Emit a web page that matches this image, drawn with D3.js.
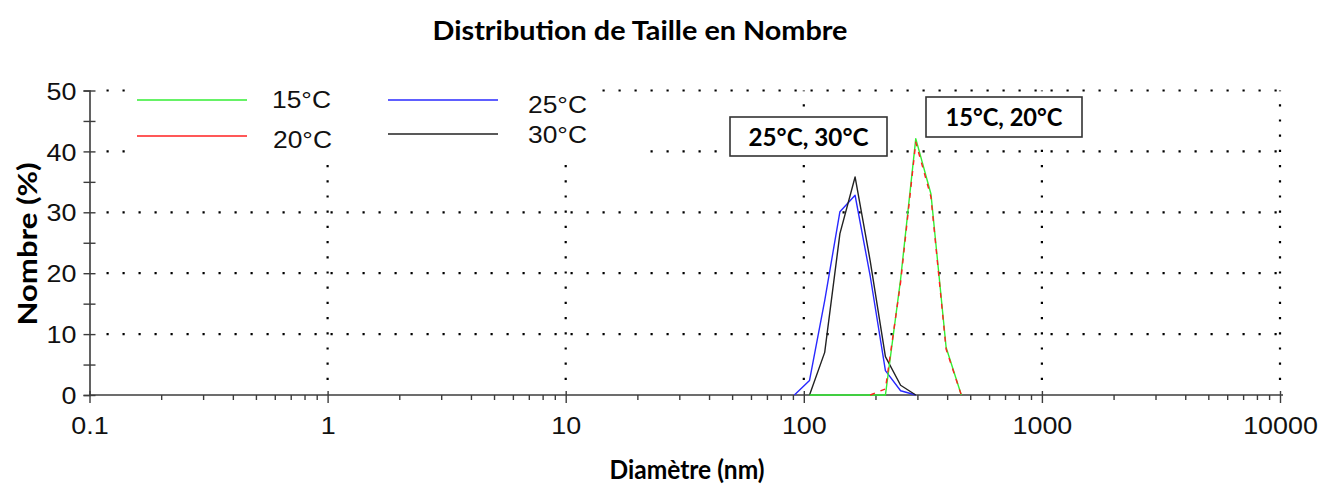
<!DOCTYPE html>
<html>
<head>
<meta charset="utf-8">
<script src="https://cdn.jsdelivr.net/npm/d3@7"></script>
<style>
  html, body { margin: 0; padding: 0; background: #fff; }
  svg { display: block; }
</style>
</head>
<body>
<svg id="chart" width="1323" height="486"></svg>
<script>
// Size bins (nm) of the number distribution
const sizes = [91.28, 105.7, 122.4, 141.8, 164.2, 190.1, 220.2, 255.0, 295.3, 342.0, 396.1, 458.7];

// Number (%) per bin, one array per temperature
const n15 = [null, 0, 0, 0, 0, 0, 0, 19, 42.1, 33, 7.8, 0];
const n20 = [null, null, null, null, null, 0, 1.0, 18.5, 41.5, 32.5, 7.5, 0];
const n25 = [0, 2.4, 15.5, 30.1, 32.8, 19.5, 4.0, 0.7, 0, null, null, null];
const n30 = [null, 0, 7.0, 26.5, 35.8, 22, 6.3, 1.6, 0, null, null, null];

const seriesNames = ["15°C", "20°C", "25°C", "30°C"];
const seriesColors = ["#33ee33", "#ff2020", "#2828ff", "#222222"];

const xTickLabels = ["0.1", "1", "10", "100", "1000", "10000"];
const xDecades = [0.1, 1, 10, 100, 1000, 10000];
const yTickLabels = [0, 10, 20, 30, 40, 50];

const titleText = "Distribution de Taille en Nombre";
const xTitle = "Diamètre (nm)";
const yTitle = "Nombre (%)";
const noteTexts = ["25°C, 30°C", "15°C, 20°C"];

const svg = d3.select("#chart");
const axisColor = "#3c3c3c";

const x = d3.scaleLog().domain([0.1, 10000]).range([89.5, 1280]);
const y = d3.scaleLinear().domain([0, 50]).range([395, 90.5]);

// stretch text horizontally (wide sans digits)
function stretch(sel, k) {
  sel.each(function () {
    const w = this.getComputedTextLength();
    this.setAttribute("textLength", w * k);
    this.setAttribute("lengthAdjust", "spacingAndGlyphs");
  });
}

// Dotted grid
const grid = svg.append("g");
grid.selectAll("line.h").data(yTickLabels.filter(v => v > 0)).join("line")
  .attr("x1", x(0.1) + 17).attr("x2", x(10000) + 2)
  .attr("y1", d => y(d)).attr("y2", d => y(d))
  .attr("stroke", "#000").attr("stroke-width", 2.2)
  .attr("stroke-dasharray", "2.2,13.8");
grid.selectAll("line.v").data(xDecades.filter(v => v > 0.1)).join("line")
  .attr("x1", d => x(d)).attr("x2", d => x(d))
  .attr("y1", y(0) - 15).attr("y2", y(50))
  .attr("stroke", "#000").attr("stroke-width", 2.2)
  .attr("stroke-dasharray", "2.2,13");

// Legend background hides the grid behind it
svg.append("rect").attr("x", 130).attr("y", 84).attr("width", 468).attr("height", 80).attr("fill", "#fff");
svg.append("rect").attr("x", 130).attr("y", 140).attr("width", 520).attr("height", 24).attr("fill", "#fff");

// Axes
const yAxis = d3.axisLeft(y).tickValues(d3.range(0, 51, 5)).tickSize(6)
  .tickFormat(d => (d % 10 === 0 ? d : ""));
const gy = svg.append("g").attr("transform", `translate(${x(0.1)},0)`).call(yAxis);
gy.select(".domain").attr("stroke", axisColor).attr("stroke-width", 1.6);
gy.selectAll(".tick line").attr("x1", -6).attr("x2", 6).attr("stroke", axisColor).attr("stroke-width", 1.4);
gy.selectAll(".tick text").attr("x", -13).attr("dy", "0.36em")
  .attr("font-family", "'Liberation Sans', Arial, sans-serif").attr("font-size", 24).attr("fill", "#111");
stretch(gy.selectAll(".tick text"), 1.12);

const minor = [];
xDecades.slice(0, -1).forEach(d => { for (let k = 2; k <= 9; k++) minor.push(d * k); });
const xAxis = d3.axisBottom(x).tickValues(xDecades.concat(minor)).tickSize(6)
  .tickFormat(d => { const i = xDecades.indexOf(d); return i >= 0 ? xTickLabels[i] : ""; });
const gx = svg.append("g").attr("transform", `translate(0,${y(0)})`).call(xAxis);
gx.select(".domain").attr("stroke", axisColor).attr("stroke-width", 1.6).attr("d", `M${x(0.1)},0H${x(10000) + 3}`);
gx.selectAll(".tick line").attr("stroke", axisColor).attr("stroke-width", 1.4)
  .attr("y1", d => (xDecades.includes(d) ? -4 : 0))
  .attr("y2", d => (xDecades.includes(d) ? 8 : 5));
gx.selectAll(".tick text").attr("y", 30).attr("dy", "0.36em")
  .attr("font-family", "'Liberation Sans', Arial, sans-serif").attr("font-size", 24).attr("fill", "#111");
stretch(gx.selectAll(".tick text"), 1.12);

// Curves
const line = d3.line().defined(d => d[1] !== null).x(d => x(d[0])).y(d => y(d[1]));
const pts = arr => sizes.map((s, i) => [s, arr[i]]);
const curves = svg.append("g").attr("fill", "none").attr("stroke-width", 1.4).attr("stroke-linejoin", "round");
curves.append("path").attr("d", line(pts(n25))).attr("stroke", seriesColors[2]);
curves.append("path").attr("d", line(pts(n30))).attr("stroke", seriesColors[3]);
curves.append("path").attr("d", line(pts(n15))).attr("stroke", seriesColors[0]);
curves.append("path").attr("d", line(pts(n20))).attr("stroke", seriesColors[1]).attr("stroke-dasharray", "5,6");

// Legend
const legend = [
  { i: 0, lx: 137, ly: 100, tx: 272, ty: 108 },
  { i: 1, lx: 137, ly: 136, tx: 273, ty: 148 },
  { i: 2, lx: 388, ly: 100, tx: 528, ty: 113 },
  { i: 3, lx: 388, ly: 134, tx: 528, ty: 143 }
];
const lg = svg.append("g");
lg.selectAll("line").data(legend).join("line")
  .attr("x1", d => d.lx).attr("x2", d => d.lx + 110)
  .attr("y1", d => d.ly).attr("y2", d => d.ly)
  .attr("stroke", d => seriesColors[d.i]).attr("stroke-width", 1.4);
lg.selectAll("text").data(legend).join("text")
  .attr("x", d => d.tx).attr("y", d => d.ty)
  .attr("font-family", "'Liberation Sans', Arial, sans-serif").attr("font-size", 24).attr("fill", "#111")
  .text(d => seriesNames[d.i]);
stretch(lg.selectAll("text"), 1.1);

// Annotation boxes
const noteBoxes = [
  { x: 730, y: 117, w: 157, h: 39, tw: 120 },
  { x: 926, y: 97, w: 156, h: 40, tw: 117 }
];
const ng = svg.append("g").selectAll("g").data(noteBoxes).join("g")
  .attr("transform", d => `translate(${d.x},${d.y})`);
ng.append("rect").attr("width", d => d.w).attr("height", d => d.h)
  .attr("fill", "#fff").attr("stroke", "#333").attr("stroke-width", 1.6);
ng.append("text").attr("x", d => d.w / 2).attr("y", d => d.h / 2 + 9)
  .attr("text-anchor", "middle")
  .attr("font-family", "Lato, 'Open Sans', sans-serif").attr("font-weight", 700).attr("font-size", 25)
  .attr("textLength", d => d.tw).attr("lengthAdjust", "spacingAndGlyphs")
  .attr("fill", "#000").text((d, i) => noteTexts[i]);

// Titles
const bold = { "font-family": "Lato, 'Open Sans', sans-serif", "font-weight": 700, "fill": "#000", "lengthAdjust": "spacingAndGlyphs" };
function applyAttrs(sel, o) { Object.entries(o).forEach(([k, v]) => sel.attr(k, v)); return sel; }
applyAttrs(svg.append("text"), bold).attr("x", 640).attr("y", 40).attr("text-anchor", "middle")
  .attr("font-size", 26).attr("textLength", 415).text(titleText);
applyAttrs(svg.append("text"), bold).attr("x", 687).attr("y", 479).attr("text-anchor", "middle")
  .attr("font-size", 26).attr("textLength", 155).text(xTitle);
applyAttrs(svg.append("text"), bold).attr("transform", "translate(37,244) rotate(-90)").attr("text-anchor", "middle")
  .attr("font-size", 27).attr("textLength", 163).text(yTitle);
</script>
</body>
</html>
